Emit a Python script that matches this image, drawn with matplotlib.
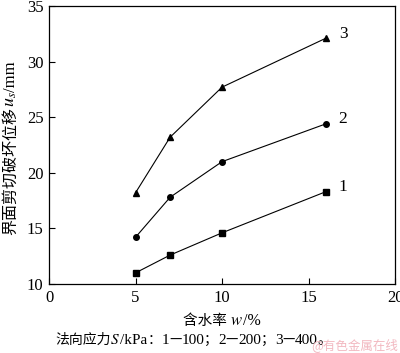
import matplotlib.pyplot as plt

plt.rcParams['font.family'] = ['Liberation Serif', 'Noto Sans CJK SC']
plt.rcParams['mathtext.fontset'] = 'stix'

w = [5, 7, 10, 16]
u1 = [11.0, 12.6, 14.6, 18.3]
u2 = [14.2, 17.8, 21.0, 24.4]
u3 = [18.2, 23.2, 27.7, 32.1]
labels = ['1', '2', '3']

CJK = 'Noto Sans CJK SC'
SERIF = 'Liberation Serif'

fig = plt.figure(figsize=(4.0, 3.53), dpi=100)
ax = fig.add_axes([49/400, 1-284/353, 346/400, 278/353])

for u, m, lab in zip([u1, u2, u3], ['s', 'o', '^'], labels):
    ax.plot(w, u, color='black', lw=0.8, marker=m, ms=4)
    ax.text(17.0, u[-1] + 0.4, lab, fontsize=12.5, ha='center', va='center',
            family=SERIF)

ax.set_xlim(0, 20)
ax.set_ylim(10, 35)
ax.set_xticks([0, 5, 10, 15, 20])
ax.set_yticks([10, 15, 20, 25, 30, 35])
ax.tick_params(direction='in', labelsize=12, length=4, width=0.8, pad=4)
for t in ax.get_xticklabels() + ax.get_yticklabels():
    t.set_family(SERIF)
for s in ax.spines.values():
    s.set_linewidth(0.9)

fig.canvas.draw()
renderer = fig.canvas.get_renderer()
W, H = fig.bbox.width, fig.bbox.height


def pieces_h(xc, yb, pieces, **kw):
    # lay text pieces left to right on one baseline, centred at xc (pixels)
    objs = []
    for s, fam, size in pieces:
        objs.append(fig.text(0, yb / H, s, family=fam, fontsize=size,
                             va='baseline', ha='left', **kw))
    widths = [o.get_window_extent(renderer).width for o in objs]
    x = xc - sum(widths) / 2
    for o, wd in zip(objs, widths):
        o.set_x(x / W)
        x += wd


def pieces_v(xb, yc, pieces):
    # rotated 90 deg, stacked bottom to top, centred at yc (pixels)
    objs = []
    for s, fam, size in pieces:
        objs.append(fig.text(xb / W, 0, s, family=fam, fontsize=size,
                             rotation=90, rotation_mode='anchor',
                             va='baseline', ha='left'))
    heights = [o.get_window_extent(renderer).height for o in objs]
    y = yc - sum(heights) / 2
    for o, hg in zip(objs, heights):
        o.set_y(y / H)
        y += hg


# y label
pieces_v(15, H - 148, [('界面剪切破坏位移', CJK, 11.5),
                       ('$u_s$', SERIF, 13),
                       ('/mm', SERIF, 12)])
# x label
pieces_h(222, H - 325, [('含水率 ', CJK, 10.5),
                        ('$w$', SERIF, 12),
                        ('/%', SERIF, 11.5)])
# footnote
parts = [('法向应力', CJK), ('$S$', SERIF), ('/kPa', SERIF), ('：', CJK),
         ('1', SERIF), ('—', CJK), ('100', SERIF), ('；', CJK),
         ('2', SERIF), ('—', CJK), ('200', SERIF), ('；', CJK),
         ('3', SERIF), ('—', CJK), ('400', SERIF), ('。', CJK)]
x = 55
for s, fam in parts:
    size = 10 if fam == CJK else 11
    t = fig.text(x / W, 1 - 344 / 353, s, family=[fam, CJK], fontsize=size,
                 va='baseline')
    x += t.get_window_extent(renderer).width

fig.text(398 / W, 1 - 345 / 353, '@有色金属在线', family=CJK, fontsize=9,
         color='#f2b8c0', ha='right', va='center')

plt.savefig('out.png', dpi=100)
